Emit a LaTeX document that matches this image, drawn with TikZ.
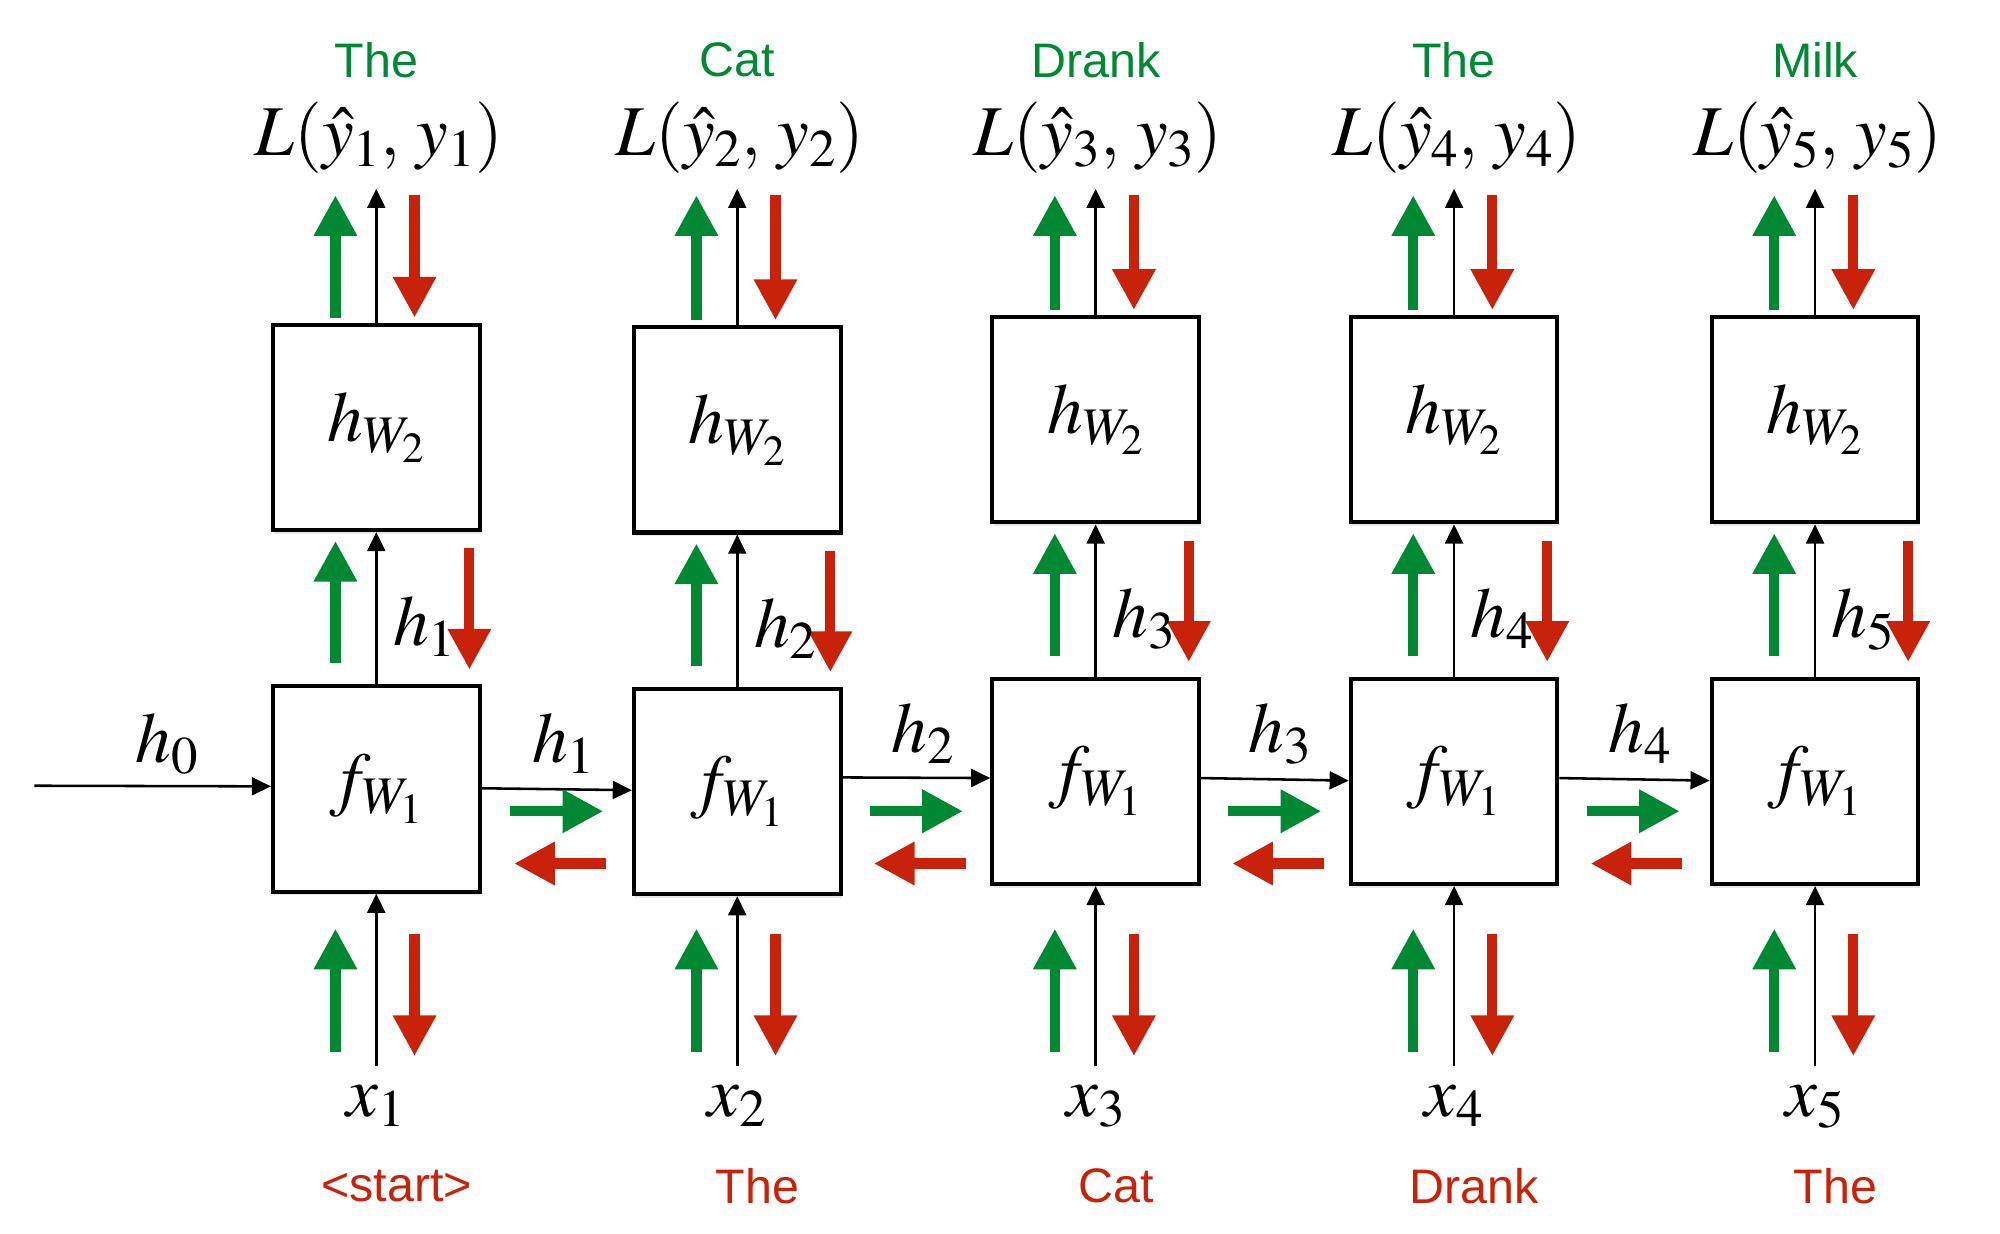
\documentclass[tikz,border=0pt]{standalone}
\usepackage{mathptmx}
\usepackage[no-math]{fontspec}
\newfontfamily\mywordfamily{Liberation Sans}
\usetikzlibrary{arrows.meta,shadows}
\definecolor{gcol}{RGB}{0,136,50}
\definecolor{rcol}{RGB}{200,35,10}
\newcommand\mylabfont{\fontsize{56}{62}\selectfont}
\newcommand\mywordfont{\mywordfamily\fontsize{38}{44}\selectfont}
\begin{document}
\begin{tikzpicture}[x=1pt,y=-1pt,
  box/.style={draw,line width=3.2pt,minimum width=162pt,minimum height=161pt,inner sep=0pt,fill=white,font=\mylabfont,
    drop shadow={shadow xshift=1pt,shadow yshift=-3pt,opacity=0.18}},
  conn/.style={line width=2pt,-{Triangle[length=15pt,width=14pt]}},
  gfat/.style={draw=gcol,line width=8pt,-{Triangle[length=32pt,width=32pt]}},
  rfat/.style={draw=rcol,line width=8pt,-{Triangle[length=32pt,width=32pt]}},
  lab/.style={inner sep=1pt,font=\mylabfont},
  gword/.style={inner sep=1pt,font=\mywordfont,text=gcol},
  rword/.style={inner sep=1pt,font=\mywordfont,text=rcol}]
\useasboundingbox (0,0) rectangle (1568,967);
\foreach \i/\cx/\dy/\tw/\bw in {1/295/0/The/{<start>},2/578/2/Cat/The,3/859/-6/Drank/Cat,4/1140/-6/The/Drank,5/1423/-6/Milk/The}{
  \node[box] (h\i) at (\cx,335+\dy) {$h_{W_2}$};
  \node[box] (f\i) at (\cx,618.5+\dy) {$f_{W_1}$};
  % top
  \node[gword] (w\i) at (\cx,47) {\tw};
  \node[lab] (L\i) at (\cx+2,108) {$L(\hat{y}_\i,\,y_\i)$};
  \coordinate (t\i) at (\cx,148);
  \draw[conn] (h\i.north) -- (t\i);
  \draw[gfat] (\cx-32,249+\dy) -- (\cx-32,153);
  \draw[rfat] (\cx+30,153) -- (\cx+30,249+\dy);
  % middle
  \draw[conn] (f\i.north) -- (h\i.south);
  \draw[gfat] (\cx-32,520+\dy) -- (\cx-32,424+\dy);
  \draw[rfat] (\cx+73,430+\dy) -- (\cx+73,525+\dy);
  \node[lab,anchor=base west] (m\i) at (\cx+12,506+\dy) {$h_\i$};
  % bottom
  \coordinate (b\i) at (\cx,836);
  \draw[conn] (b\i) -- (f\i.south);
  \draw[gfat] (\cx-32,825) -- (\cx-32,728);
  \draw[rfat] (\cx+30,732) -- (\cx+30,828);
  \node[lab,anchor=base] (x\i) at (\cx,875) {$x_\i$};
  \node[rword] (r\i) at (\cx+16,930) {\bw};
}
% horizontal connections
\coordinate (s0) at (27,616);
\draw[conn] (s0) -- ([yshift=2pt]f1.west);
\node[lab,anchor=base west] (hl0) at (105,598) {$h_0$};
\draw[conn] ([yshift=0.5pt]f1.east) -- ([yshift=1pt]f2.west);
\draw[conn] ([yshift=11pt]f2.east) -- ([yshift=2.5pt]f3.west);
\draw[conn] ([yshift=2.5pt]f3.east) -- ([yshift=0.5pt]f4.west);
\draw[conn] ([yshift=2.5pt]f4.east) -- ([yshift=0.5pt]f5.west);
\node[lab,anchor=base west] (hl1) at (416,598) {$h_1$};
\node[lab,anchor=base west] (hl2) at (698,590) {$h_2$};
\node[lab,anchor=base west] (hl3) at (978,590) {$h_3$};
\node[lab,anchor=base west] (hl4) at (1260,590) {$h_4$};
\foreach \xr in {378,660,941,1222}{
  \draw[gfat] (\xr+22,636) -- (\xr+95,636);
  \draw[rfat] (\xr+97,677) -- (\xr+25,677);
}
\end{tikzpicture}
\end{document}
